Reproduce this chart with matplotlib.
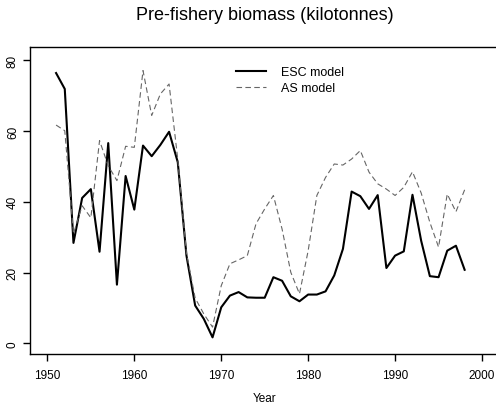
import matplotlib
matplotlib.use("Agg")
import matplotlib.pyplot as plt

years = list(range(1951, 1999))
esc = [76.4, 71.9, 28.4, 41.1, 43.6, 25.9, 56.6, 16.6, 47.3, 37.8,
       55.9, 52.9, 56.1, 59.8, 51.2, 24.8, 10.7, 6.9, 1.7, 10.2,
       13.5, 14.5, 13.0, 12.9, 12.9, 18.7, 17.7, 13.3, 11.9, 13.8,
       13.8, 14.7, 19.2, 26.7, 42.9, 41.6, 38.0, 41.9, 21.3, 24.8,
       26.0, 42.0, 29.0, 19.0, 18.7, 26.2, 27.6, 20.8]
as_model = [61.7, 60.1, 31.0, 38.9, 35.5, 57.3, 50.2, 46.0, 55.7, 55.4,
            77.1, 64.4, 70.5, 73.3, 52.0, 25.5, 12.8, 8.3, 4.6, 16.3,
            22.5, 23.6, 24.8, 33.8, 38.0, 41.8, 32.3, 20.1, 14.0, 26.2,
            41.8, 46.9, 50.7, 50.4, 52.1, 54.5, 48.4, 45.1, 43.6, 41.8,
            44.1, 48.5, 42.5, 34.2, 27.2, 42.2, 37.2, 43.4]

xticks = [1950, 1960, 1970, 1980, 1990, 2000]
yticks = [0, 20, 40, 60, 80]

plt.rcParams['font.family'] = ['Liberation Sans', 'DejaVu Sans']

fig = plt.figure(figsize=(4.96, 4.06), dpi=100)
ax = fig.add_axes([30/496, 51/406, (499.4-30)/496, (355-47.5)/406])

ax.plot(years, esc, color='black', lw=1.5, label='ESC model')
ax.plot(years, as_model, color='0.4', lw=0.8, dashes=(5, 3), label='AS model')

ax.set_xlim(1948, 2002)
ax.set_ylim(-3.0, 83.9)
ax.set_xticks(xticks)
ax.set_yticks(yticks)
ax.set_yticklabels([str(v) for v in yticks], rotation=90, va='center')
ax.tick_params(direction='out', length=5, width=1, labelsize=8.5, pad=6)
ax.tick_params(axis='y', pad=3)
for s in ['left', 'bottom', 'top']:
    ax.spines[s].set_linewidth(1)
ax.spines['right'].set_visible(False)

ax.set_xlabel('Year', fontsize=8.5, labelpad=8)
ax.set_title('Pre-fishery biomass (kilotonnes)', fontsize=13, pad=20)

leg = ax.legend(loc='upper left', bbox_to_anchor=((236-30)/469.4, 1 - (67.5-47.5)/307.5),
                frameon=False, fontsize=9, handlelength=2.4, handletextpad=1.2,
                labelspacing=0.3, borderpad=0, borderaxespad=0)

fig.savefig('out.png', dpi=100)
